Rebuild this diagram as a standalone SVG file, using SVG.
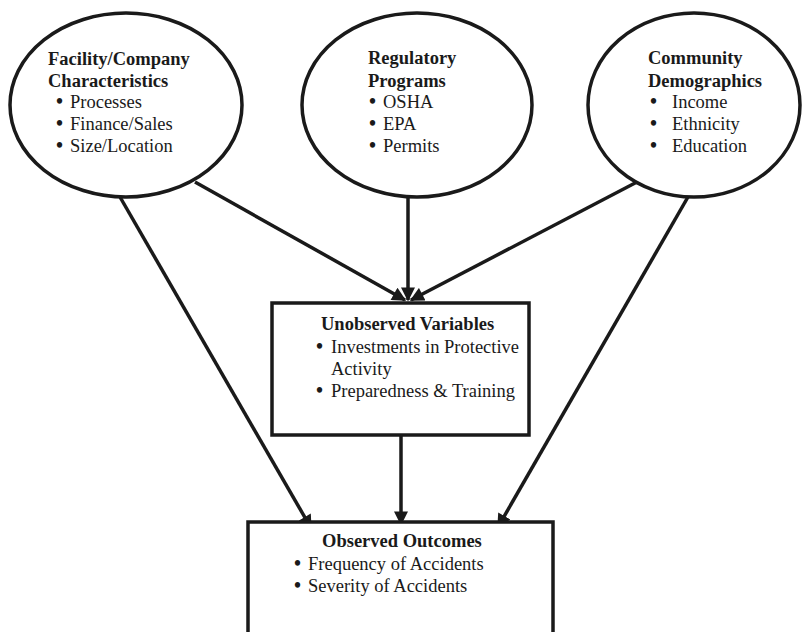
<svg xmlns="http://www.w3.org/2000/svg" width="802" height="632" viewBox="0 0 802 632">
  <style>
    .shape { fill: #fff; stroke: #1a1a1a; stroke-width: 3.5; }
    .edge { fill: none; stroke: #1a1a1a; stroke-width: 3.5; marker-end: url(#arrow); }
    text { font-family: "Liberation Serif", "Times New Roman", serif; font-size: 18.5px; fill: #1a1a1a; }
    .title { font-weight: bold; }
    .dot { font-size: 20px; font-weight: bold; }
  </style>
  <defs>
    <marker id="arrow" viewBox="0 0 10 10" refX="9" refY="5" markerWidth="4.2" markerHeight="4" orient="auto" markerUnits="strokeWidth">
      <path d="M0,0 L10,5 L0,10 Z" fill="#1a1a1a"/>
    </marker>
  </defs>
  <rect width="802" height="632" fill="#fff"/>

  <!-- arrows are drawn first so the shapes cover their tails -->
  <g id="connectors">
    <line class="edge" x1="195" y1="182" x2="405" y2="300"/>
    <line class="edge" x1="408" y1="197" x2="408" y2="300"/>
    <line class="edge" x1="637" y1="182" x2="411" y2="300"/>
    <line class="edge" x1="120" y1="197" x2="311" y2="528"/>
    <line class="edge" x1="401" y1="435" x2="401" y2="524"/>
    <line class="edge" x1="692" y1="190" x2="498" y2="527"/>
  </g>

  <g id="facility">
    <ellipse class="shape" cx="126" cy="105" rx="116" ry="92"/>
    <text class="title" x="48" y="65">Facility/Company</text>
    <text class="title" x="48" y="87">Characteristics</text>
    <text x="56" y="108"><tspan class="dot">•</tspan><tspan x="70">Processes</tspan></text>
    <text x="56" y="130"><tspan class="dot">•</tspan><tspan x="70">Finance/Sales</tspan></text>
    <text x="56" y="152"><tspan class="dot">•</tspan><tspan x="70">Size/Location</tspan></text>
  </g>

  <g id="regulatory">
    <ellipse class="shape" cx="417" cy="105" rx="115" ry="92"/>
    <text class="title" x="368" y="64">Regulatory</text>
    <text class="title" x="368" y="87">Programs</text>
    <text x="369" y="108"><tspan class="dot">•</tspan><tspan x="383">OSHA</tspan></text>
    <text x="369" y="130"><tspan class="dot">•</tspan><tspan x="383">EPA</tspan></text>
    <text x="369" y="152"><tspan class="dot">•</tspan><tspan x="383">Permits</tspan></text>
  </g>

  <g id="community">
    <ellipse class="shape" cx="694" cy="105" rx="106" ry="92"/>
    <text class="title" x="648" y="64">Community</text>
    <text class="title" x="648" y="87">Demographics</text>
    <text x="650" y="108"><tspan class="dot">•</tspan><tspan x="672">Income</tspan></text>
    <text x="650" y="130"><tspan class="dot">•</tspan><tspan x="672">Ethnicity</tspan></text>
    <text x="650" y="152"><tspan class="dot">•</tspan><tspan x="672">Education</tspan></text>
  </g>

  <g id="unobserved">
    <rect class="shape" x="272" y="303" width="257" height="132"/>
    <text class="title" x="321" y="330">Unobserved Variables</text>
    <text x="316" y="353"><tspan class="dot">•</tspan><tspan x="331">Investments in Protective</tspan></text>
    <text x="331" y="375">Activity</text>
    <text x="316" y="397"><tspan class="dot">•</tspan><tspan x="331">Preparedness &amp; Training</tspan></text>
  </g>

  <g id="observed">
    <rect class="shape" x="248" y="522" width="305" height="130"/>
    <text class="title" x="322" y="547">Observed Outcomes</text>
    <text x="294" y="570"><tspan class="dot">•</tspan><tspan x="308">Frequency of Accidents</tspan></text>
    <text x="294" y="592"><tspan class="dot">•</tspan><tspan x="308">Severity of Accidents</tspan></text>
  </g>
</svg>
